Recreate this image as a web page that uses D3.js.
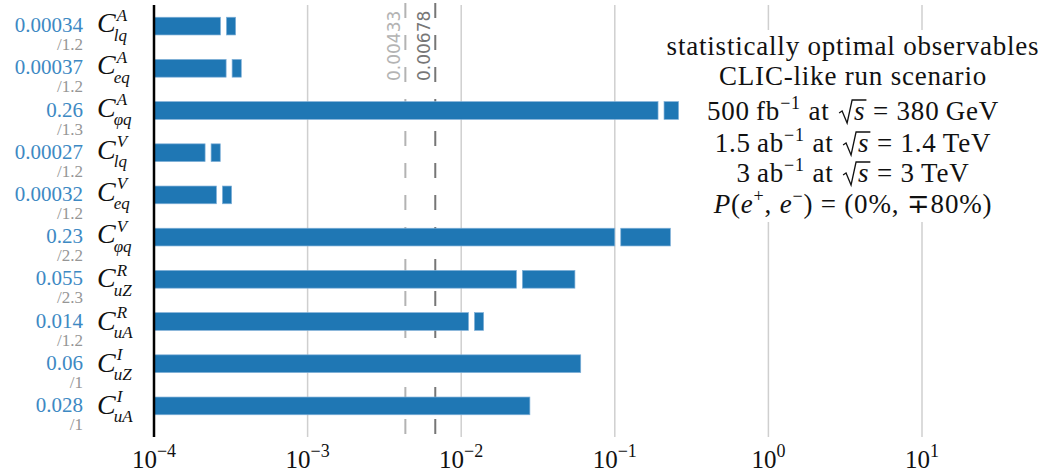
<!DOCTYPE html>
<html>
<head>
<meta charset="utf-8">
<script src="https://cdn.jsdelivr.net/npm/d3@7"></script>
<style>
  html, body { margin: 0; padding: 0; background: #fff; }
  svg { display: block; }
</style>
</head>
<body>
<script>
// Wilson coefficients, one bar each, top to bottom
const coefSup = ["A", "A", "A", "V", "V", "V", "R", "R", "I", "I"];
const coefSub = ["lq", "eq", "φq", "lq", "eq", "φq", "uZ", "uA", "uZ", "uA"];
// one-sigma reach (full run) and improvement factor of the extra measurements
const reach = [0.00034, 0.00037, 0.26, 0.00027, 0.00032, 0.23, 0.055, 0.014, 0.06, 0.028];
const gain = [1.2, 1.2, 1.3, 1.2, 1.2, 2.2, 2.3, 1.2, 1, 1];
const reachLabels = ["0.00034", "0.00037", "0.26", "0.00027", "0.00032", "0.23", "0.055", "0.014", "0.06", "0.028"];
const gainLabels = ["/1.2", "/1.2", "/1.3", "/1.2", "/1.2", "/2.2", "/2.3", "/1.2", "/1", "/1"];

// log-axis ticks
const tickValues = [1e-4, 1e-3, 1e-2, 1e-1, 1, 10];
const tickExponents = ["−4", "−3", "−2", "−1", "0", "1"];

// reference lines
const refValues = [0.00433, 0.00678];
const refLabels = ["0.00433", "0.00678"];
const refColors = ["#b3b3b3", "#767676"];

const W = 1044, H = 473;
const plotTop = 5, plotBottom = 437;
const blue = "#1f77b4";

const x = d3.scaleLog().domain([1e-4, 10]).range([154, 922]);
const y = d3.scaleBand().domain(d3.range(reach.length)).range([5, 427])
  .paddingInner(0.58).paddingOuter(0.29);

const svg = d3.select("body").append("svg").attr("width", W).attr("height", H);
const serif = "'Liberation Serif', 'Times New Roman', serif";

// vertical grid
svg.append("g").selectAll("line").data(tickValues.slice(1)).join("line")
  .attr("x1", d => x(d)).attr("x2", d => x(d))
  .attr("y1", plotTop).attr("y2", plotBottom)
  .attr("stroke", "#cfcfcf").attr("stroke-width", 1.5);

// dashed reference lines
svg.append("g").selectAll("line").data(refValues).join("line")
  .attr("x1", d => x(d)).attr("x2", d => x(d))
  .attr("y1", 3).attr("y2", plotBottom)
  .attr("stroke", (d, i) => refColors[i]).attr("stroke-width", 2)
  .attr("stroke-dasharray", "15,17");

// rotated reference labels
svg.append("g").selectAll("text").data(refValues).join("text")
  .attr("transform", d => `translate(${x(d) - 5},81) rotate(-90)`)
  .attr("font-family", "'DejaVu Sans', sans-serif").attr("font-size", 17)
  .attr("fill", (d, i) => refColors[i])
  .text((d, i) => refLabels[i]);

// white panel behind the run description
svg.append("rect").attr("x", 656).attr("y", 30).attr("width", W - 656).attr("height", 192)
  .attr("fill", "#fff");

// bars: full reach, split where the improvement factor lands
const gap = 3;
const segments = [];
reach.forEach((v, i) => {
  const x0 = x(1e-4);
  if (gain[i] > 1) {
    const xs = x(v / gain[i]);
    segments.push({ i, a: x0, b: xs - gap });
    segments.push({ i, a: xs + gap, b: x(v) });
  } else {
    segments.push({ i, a: x0, b: x(v) });
  }
});
svg.append("g").selectAll("rect").data(segments).join("rect")
  .attr("x", d => d.a).attr("width", d => Math.max(0, d.b - d.a))
  .attr("y", d => y(d.i)).attr("height", y.bandwidth())
  .attr("fill", blue).attr("stroke", "#7fb0d8").attr("stroke-width", 0.7);

// left spine
svg.append("line").attr("x1", x(1e-4)).attr("x2", x(1e-4))
  .attr("y1", plotTop).attr("y2", plotBottom)
  .attr("stroke", "#000").attr("stroke-width", 2.5);

// row labels
const rows = svg.append("g");
reach.forEach((v, i) => {
  const cy = y(i) + y.bandwidth() / 2;
  rows.append("text").attr("x", 83).attr("y", cy + 6)
    .attr("text-anchor", "end").attr("font-family", serif).attr("font-size", 21)
    .attr("fill", "#3d89c3").text(reachLabels[i]);
  rows.append("text").attr("x", 83).attr("y", cy + 24)
    .attr("text-anchor", "end").attr("font-family", serif).attr("font-size", 17)
    .attr("fill", "#969696").text(gainLabels[i]);

  const base = cy + (/[qφ]/.test(coefSub[i]) ? 6 : 8);
  const c = rows.append("text").attr("x", 97).attr("y", base)
    .attr("font-family", serif).attr("font-style", "italic").attr("font-size", 28)
    .attr("fill", "#111").text("C");
  const cw = c.node().getComputedTextLength();
  rows.append("text").attr("x", 97 + cw + 1).attr("y", base - 11.5)
    .attr("font-family", serif).attr("font-style", "italic").attr("font-size", 17)
    .attr("fill", "#111").text(coefSup[i]);
  rows.append("text").attr("x", 97 + cw - 2).attr("y", base + 8.5)
    .attr("font-family", serif).attr("font-style", "italic").attr("font-size", 17)
    .attr("fill", "#111").text(coefSub[i]);
});

// x tick labels: 10^n
const ticks = svg.append("g").selectAll("text").data(tickValues).join("text")
  .attr("x", d => x(d)).attr("y", 468).attr("text-anchor", "middle")
  .attr("font-family", serif).attr("font-size", 25).attr("fill", "#111");
ticks.append("tspan").text("10");
ticks.append("tspan").attr("font-size", 18).attr("dy", -11).text((d, i) => tickExponents[i]);

// run description
const info = [
  { y: 55, parts: [{ t: "statistically optimal observables" }] },
  { y: 85, parts: [{ t: "CLIC-like run scenario" }] },
  { y: 120, parts: [{ t: "500\u2009fb" }, { t: "−1", sup: true }, { t: " at " }, { t: "s", it: true, rad: true }, { t: " = 380\u2009GeV" }] },
  { y: 152, parts: [{ t: "1.5\u2009ab" }, { t: "−1", sup: true }, { t: " at " }, { t: "s", it: true, rad: true }, { t: " = 1.4\u2009TeV" }] },
  { y: 182, parts: [{ t: "3\u2009ab" }, { t: "−1", sup: true }, { t: " at " }, { t: "s", it: true, rad: true }, { t: " = 3\u2009TeV" }] },
  { y: 213, parts: [{ t: "P", it: true }, { t: "(" }, { t: "e", it: true }, { t: "+", sup: true }, { t: ", " }, { t: "e", it: true }, { t: "−", sup: true }, { t: ") = (0%, ∓80%)" }] }
];
const infoSize = 27;
const infoG = svg.append("g");
info.forEach(line => {
  const tx = infoG.append("text").attr("x", 853).attr("y", line.y)
    .attr("text-anchor", "middle").attr("font-family", serif)
    .attr("font-size", infoSize).attr("letter-spacing", 0.8).attr("fill", "#111");
  let shift = 0;
  const radSpans = [];
  line.parts.forEach(p => {
    const target = p.sup ? -11 : 0;
    const sp = tx.append("tspan").text(p.t).attr("dy", target - shift);
    shift = target;
    if (p.sup) sp.attr("font-size", 18);
    if (p.it) sp.attr("font-style", "italic");
    if (p.rad) { sp.attr("dx", 17); radSpans.push(sp); }
  });
  radSpans.forEach(sp => {
    const b = sp.node().getBBox();
    const base = line.y;
    const top = base - 20;
    const sx = b.x - 1;
    infoG.append("path")
      .attr("d", `M${sx - 14},${base - 7} L${sx - 11},${base - 9} L${sx - 6},${base + 3} L${sx - 1},${top} L${b.x + b.width + 1},${top}`)
      .attr("fill", "none").attr("stroke", "#111").attr("stroke-width", 1.3)
      .attr("stroke-linejoin", "miter");
  });
});
</script>
</body>
</html>
